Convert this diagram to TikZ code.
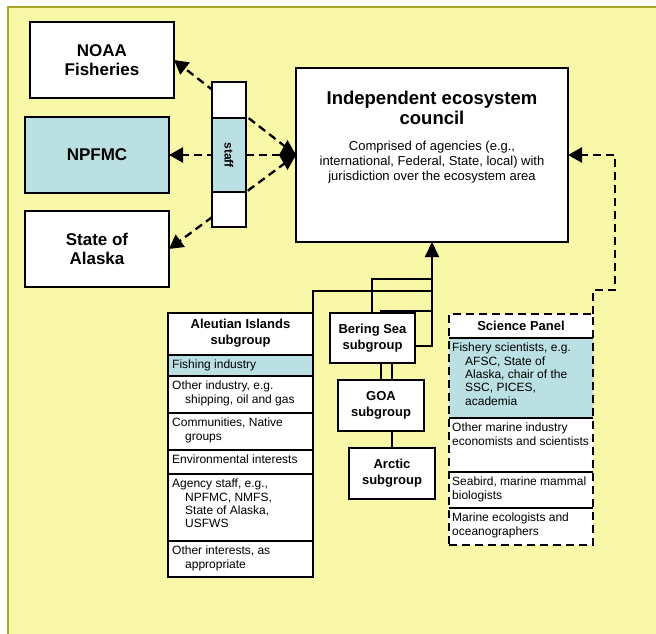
\documentclass[tikz,border=0pt]{standalone}
\usepackage{fontspec}
\setmainfont{Liberation Sans}
\usetikzlibrary{arrows.meta}
\definecolor{gelb}{RGB}{249,247,168}
\definecolor{oliv}{RGB}{168,166,40}
\definecolor{hellblau}{RGB}{186,224,227}
\tikzset{
  kasten/.style={draw, line width=2.5pt, fill=white, anchor=north west, inner sep=0pt, outer sep=0pt, align=center, font=\bfseries\fontsize{17}{19.5}\selectfont},
  gruppe/.style={kasten, font=\bfseries\fontsize{13}{16}\selectfont},
  zeile/.style={anchor=north west, inner sep=0pt, align=left, font=\fontsize{12}{13.3}\selectfont},
  kopf/.style={inner sep=0pt, align=center, font=\bfseries\fontsize{13}{16}\selectfont},
  trenner/.style={line width=1.3pt},
  verbindung/.style={line width=2pt},
  gestrichelt/.style={line width=2.3pt, dash pattern=on 8pt off 5pt},
  spitze/.style={-{Triangle[length=14pt,width=15pt]}},
}
\begin{document}
\begin{tikzpicture}[x=1pt,y=-1pt]
		\useasboundingbox (0,0) rectangle (656,634);
		\clip (0,0) rectangle (656,634);
		% zeichne Hintergrund
		\draw[fill=gelb, draw=oliv, line width=2pt] (8,7) rectangle (680,660);
		
		% zeichne Kaesten links
		\node[kasten, minimum width=144pt, minimum height=76pt] (noaa) at (30,22) {NOAA\\Fisheries};
		\node[kasten, fill=hellblau, minimum width=144pt, minimum height=76pt] (npfmc) at (25,117) {NPFMC};
		\node[kasten, minimum width=144pt, minimum height=76pt] (alaska) at (25,211) {State of\\Alaska};
		
		% zeichne Rat
		\node[kasten, minimum width=272pt, minimum height=174pt] (council) at (296,68) {};
		\node[kopf, font=\bfseries\fontsize{18.5}{20}\selectfont] (ctitel) at (432,108) {Independent ecosystem\\council};
		\node[kopf, font=\fontsize{13}{15}\selectfont] (ctext) at (432,162) {Comprised of agencies (e.g.,\\international, Federal, State, local) with\\jurisdiction over the ecosystem area};
		
		% zeichne gestrichelte Pfeile
		\draw[gestrichelt, spitze] (council.west) -- (noaa.east);
		\draw[gestrichelt, spitze] (council.west) -- (alaska.east);
		\draw[gestrichelt, {Diamond[length=17pt,width=30pt]}-{Triangle[length=14pt,width=15pt]}] (council.west) -- (npfmc.east);
		
		% zeichne Balken staff
		\node[kasten, minimum width=34pt, minimum height=145pt] (balken) at (212,82) {};
		\fill[hellblau] (212,118) rectangle (246,192);
		\draw[trenner] (212,118) -- (246,118) (212,192) -- (246,192);
		\node[rotate=-90, inner sep=0pt, font=\bfseries\fontsize{12}{14}\selectfont] (staff) at (229,155) {staff};
		\draw[line width=2.5pt] (balken.north west) rectangle (balken.south east);
		
		% zeichne Verbindungen der Untergruppen
		\node[coordinate] (aleutecke) at (313,313) {};
		\node[coordinate] (goaoben) at (381,380) {};
		\node[coordinate] (arcticoben) at (392,448) {};
		\draw[verbindung] (arcticoben) -- ++(0,-102) -| (council.south);
		\draw[verbindung] (goaoben) -- ++(0,-69) -| (council.south);
		\draw[verbindung] (aleutecke) -- ++(0,-22) -| (council.south);
		\draw[verbindung] (372,313) -- ++(0,-34) -| (council.south);
		\draw[verbindung, -{Triangle[length=15pt,width=14pt]}] (415,346) -| (council.south);
		
		% zeichne Untergruppen
		\node[gruppe, minimum width=85pt, minimum height=50pt] (bering) at (330,313) {Bering Sea\\subgroup};
		\node[gruppe, minimum width=86pt, minimum height=51pt] (goa) at (338,380) {GOA\\subgroup};
		\node[gruppe, minimum width=86pt, minimum height=51pt] (arctic) at (349,448) {Arctic\\subgroup};
		
		% zeichne Liste Aleutian Islands
		\fill[white] (168,313) rectangle (313,577);
		\fill[hellblau] (168,355) rectangle (313,376);
		\foreach \y in {355,376,413,450,474,541}
			\draw[trenner] (168,\y) -- (313,\y);
		\node[kasten, fill=none, minimum width=145pt, minimum height=264pt] (aleut) at (168,313) {};
		\node[kopf] (aleutkopf) at (240.5,333) {Aleutian Islands\\subgroup};
		\node[zeile] (fishing) at (172,360) {Fishing industry};
		\node[zeile] (industry) at (172,381) {Other industry, e.g.\\\hspace*{13pt}shipping, oil and gas};
		\node[zeile] (communities) at (172,418) {Communities, Native\\\hspace*{13pt}groups};
		\node[zeile] (environment) at (172,455) {Environmental interests};
		\node[zeile] (agency) at (172,479) {Agency staff, e.g.,\\\hspace*{13pt}NPFMC, NMFS,\\\hspace*{13pt}State of Alaska,\\\hspace*{13pt}USFWS};
		\node[zeile] (others) at (172,546) {Other interests, as\\\hspace*{13pt}appropriate};
		
		% zeichne Science Panel
		\fill[white] (449,314) rectangle (593,545);
		\fill[hellblau] (449,338) rectangle (593,418);
		\foreach \y in {338,418,472,508}
			\draw[trenner] (449,\y) -- (593,\y);
		\node[kasten, fill=none, gestrichelt, line width=2.5pt, minimum width=144pt, minimum height=231pt] (science) at (449,314) {};
		\node[kopf] (sciencekopf) at (521,326) {Science Panel};
		\node[zeile] (fishery) at (452,343) {Fishery scientists, e.g.\\\hspace*{13pt}AFSC, State of\\\hspace*{13pt}Alaska, chair of the\\\hspace*{13pt}SSC, PICES,\\\hspace*{13pt}academia};
		\node[zeile] (marine) at (452,423) {Other marine industry\\economists and scientists};
		\node[zeile] (seabird) at (452,477) {Seabird, marine mammal\\biologists};
		\node[zeile] (ecologists) at (452,513) {Marine ecologists and\\oceanographers};
		
		% zeichne Pfeil vom Science Panel
		\draw[gestrichelt, spitze] (science.north east) -- ++(0,-24) -- ++(22,0) |- (council.east);
	\end{tikzpicture}
\end{document}
